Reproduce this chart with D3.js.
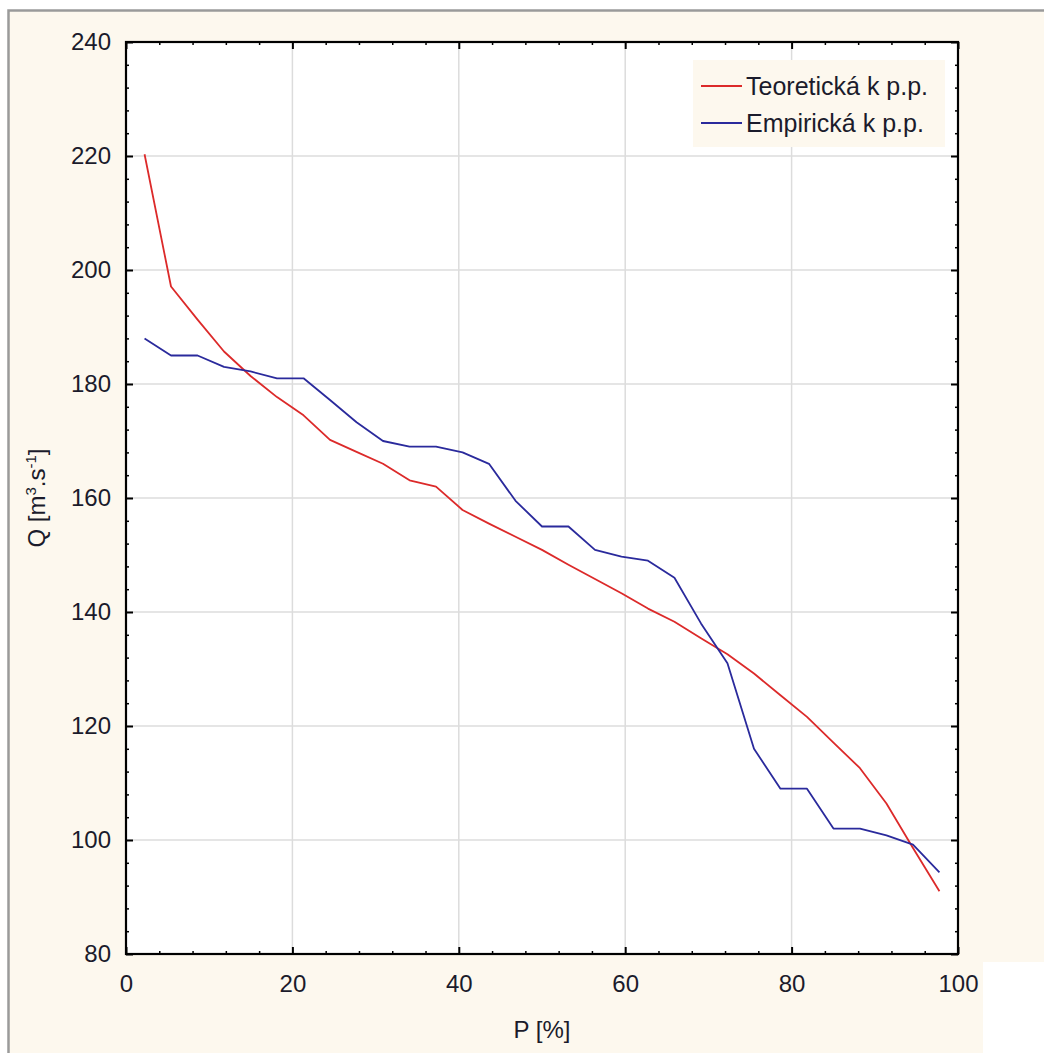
<!DOCTYPE html>
<html>
<head>
<meta charset="utf-8">
<script src="https://cdn.jsdelivr.net/npm/d3@7"></script>
<style>
  html, body { margin: 0; padding: 0; background: #fff; }
  svg { display: block; }
  text { font-family: "Liberation Sans", Arial, sans-serif; fill: #1b1b2b; }
</style>
</head>
<body>
<svg id="chart" width="1044" height="1053"></svg>
<script>
// exceedance probability P [%] (plotting positions)
const pValues = [2.23, 5.41, 8.60, 11.78, 14.97, 18.15, 21.34, 24.52, 27.71, 30.89, 34.08,
  37.26, 40.45, 43.63, 46.82, 50.00, 53.18, 56.37, 59.55, 62.74, 65.92, 69.11, 72.29,
  75.48, 78.66, 81.85, 85.03, 88.22, 91.40, 94.59, 97.77]
// discharge Q [m3/s]
const qTheoretical = [220.3, 197.1, 191.3, 185.7, 181.4, 177.7, 174.5, 170.2, 168.1, 166.0, 163.1,
  162.0, 157.9, 155.5, 153.2, 150.9, 148.3, 145.8, 143.3, 140.6, 138.3, 135.4, 132.6,
  129.2, 125.4, 121.6, 117.1, 112.6, 106.4, 98.6, 91.0]
const qEmpirical = [188.0, 185.0, 185.0, 183.0, 182.2, 181.0, 181.0, 177.2, 173.3, 170.0, 169.0,
  169.0, 168.0, 166.0, 159.5, 155.0, 155.0, 150.9, 149.7, 149.0, 146.0, 138.0, 131.0,
  116.0, 109.0, 109.0, 102.0, 102.0, 100.8, 99.2, 94.3]
const seriesNames = ["Teoretická k p.p.", "Empirická k p.p."]
const seriesColors = ["#dc2a2a", "#2a2a9c"]
const xTicks = [0, 20, 40, 60, 80, 100]
const yTicks = [80, 100, 120, 140, 160, 180, 200, 220, 240]

const svg = d3.select("#chart")

// window frame + cream panel
svg.append("rect").attr("x", 8).attr("y", 10).attr("width", 1036).attr("height", 1043)
  .attr("fill", "#fdf8ee")
svg.append("path").attr("d", "M8.5,1053 V10.5 H1044")
  .attr("fill", "none").attr("stroke", "#9a9a9a").attr("stroke-width", 2.5)
svg.append("rect").attr("x", 983).attr("y", 962).attr("width", 61).attr("height", 91)
  .attr("fill", "#fff")

const pl = 126, pr = 958, pt = 42, pb = 954

const x = d3.scaleLinear().domain([0, 100]).range([pl, pr])
const y = d3.scaleLinear().domain([80, 240]).range([pb, pt])

svg.append("rect").attr("x", pl).attr("y", pt)
  .attr("width", pr - pl).attr("height", pb - pt).attr("fill", "#fff")

// grid
const grid = svg.append("g").attr("stroke", "#dcdcdc").attr("stroke-width", 1.5)
grid.selectAll(".gx").data(xTicks.slice(1, -1)).join("line")
  .attr("x1", d => x(d)).attr("x2", d => x(d)).attr("y1", pt).attr("y2", pb)
grid.selectAll(".gy").data(yTicks.slice(1, -1)).join("line")
  .attr("y1", d => y(d)).attr("y2", d => y(d)).attr("x1", pl).attr("x2", pr)

// minor ticks every 4 units
const xMinor = d3.range(0, 101, 4).filter(v => v % 20 !== 0)
const yMinor = d3.range(80, 241, 4).filter(v => v % 20 !== 0)

function tickAxis(axis, translate, minorVals) {
  const g = svg.append("g").attr("transform", translate)
  g.call(axis.tickValues(minorVals).tickSize(-3).tickFormat(""))
  g.select(".domain").remove()
  g.selectAll("line").attr("stroke", "#000").attr("stroke-width", 1.5)
  return g
}
function majorAxis(axis, translate, vals, pad) {
  const g = svg.append("g").attr("transform", translate)
  g.call(axis.tickValues(vals).tickSize(-7).tickPadding(pad || 0)
    .tickFormat(pad ? d3.format("d") : ""))
  g.select(".domain").remove()
  g.selectAll("line").attr("stroke", "#000").attr("stroke-width", 2)
  g.selectAll("text").style("font-size", "24px").attr("fill", "#1b1b2b")
  return g
}

tickAxis(d3.axisBottom(x), `translate(0,${pb})`, xMinor)
tickAxis(d3.axisTop(x), `translate(0,${pt})`, xMinor)
tickAxis(d3.axisLeft(y), `translate(${pl},0)`, yMinor)
tickAxis(d3.axisRight(y), `translate(${pr},0)`, yMinor)

majorAxis(d3.axisBottom(x), `translate(0,${pb})`, xTicks, 21)
majorAxis(d3.axisTop(x), `translate(0,${pt})`, xTicks, 0)
majorAxis(d3.axisLeft(y), `translate(${pl},0)`, yTicks, 15)
majorAxis(d3.axisRight(y), `translate(${pr},0)`, yTicks, 0)

// frame
svg.append("rect").attr("x", pl).attr("y", pt)
  .attr("width", pr - pl).attr("height", pb - pt)
  .attr("fill", "none").attr("stroke", "#000").attr("stroke-width", 2.2)

// curves
const line = d3.line().x(d => x(d[0])).y(d => y(d[1]))
const series = [qTheoretical, qEmpirical]
series.forEach((vals, i) => {
  svg.append("path")
    .datum(pValues.map((p, j) => [p, vals[j]]))
    .attr("d", line)
    .attr("fill", "none")
    .attr("stroke", seriesColors[i])
    .attr("stroke-width", 1.8)
    .attr("stroke-linejoin", "round")
})

// legend
const legend = svg.append("g").attr("transform", "translate(693,60)")
legend.append("rect").attr("width", 252).attr("height", 87).attr("fill", "#fdf8ee")
seriesNames.forEach((name, i) => {
  const row = legend.append("g").attr("transform", `translate(0,${26 + i * 37})`)
  row.append("line").attr("x1", 8).attr("x2", 49).attr("y1", 0).attr("y2", 0)
    .attr("stroke", seriesColors[i]).attr("stroke-width", 1.8)
  row.append("text").attr("x", 53).attr("y", 9).style("font-size", "25px").text(name)
})

// axis titles
svg.append("text").attr("x", (pl + pr) / 2).attr("y", 1038)
  .attr("text-anchor", "middle").style("font-size", "24px").text("P [%]")

const yTitle = svg.append("text")
  .attr("transform", `translate(45,${(pt + pb) / 2}) rotate(-90)`)
  .attr("text-anchor", "middle").style("font-size", "24px")
yTitle.append("tspan").text("Q [m")
yTitle.append("tspan").attr("dy", -9).style("font-size", "15px").text("3")
yTitle.append("tspan").attr("dy", 9).text(".s")
yTitle.append("tspan").attr("dy", -9).style("font-size", "15px").text("-1")
yTitle.append("tspan").attr("dy", 9).text("]")
</script>
</body>
</html>
